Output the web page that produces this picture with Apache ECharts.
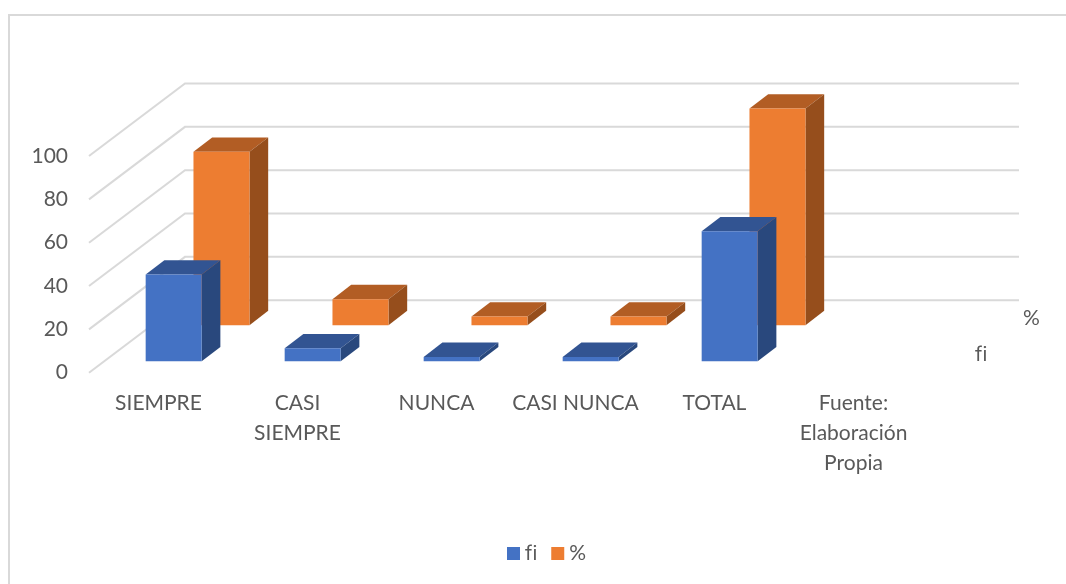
<!DOCTYPE html>
<html>
<head>
<meta charset="utf-8">
<style>
  html, body { margin: 0; background: #fff; }
  #chart { width: 1066px; height: 584px; }
</style>
<script src="https://cdn.jsdelivr.net/npm/echarts@6/dist/echarts.min.js"></script>
</head>
<body>
<div id="chart"></div>
<script>
const categories = ['SIEMPRE', 'CASI\nSIEMPRE', 'NUNCA', 'CASI NUNCA', 'TOTAL', 'Fuente:\nElaboración\nPropia']
const fiValues = [40, 6, 2, 2, 60, null]
const pctValues = [80, 12, 4, 4, 100, null]
const yTicks = [0, 20, 40, 60, 80, 100]

const FONT = 'Lato'
// Lato joins f and i into a ligature, Inter keeps them apart
const FI_FONT = 'Inter'
const TEXT_COLOR = '#595959'
const GRID_COLOR = '#d9d9d9'

// full depth of the floor in px, the fake 3d is just a shear by this
const FLOOR_DX = 96
const FLOOR_DY = 72.5
const BAR_W = 56
const BAR_DX = 18.7
const BAR_DY = 14.3

const FI_COLORS = { front: '#4472c4', top: '#325492', side: '#29487d' }
const PCT_COLORS = { front: '#ed7d31', top: '#b25d24', side: '#964e1c' }

function poly(points, fill) {
  return {
    type: 'polygon',
    shape: { points },
    style: { fill }
  }
}

function renderBar(depth, colors) {
  return (params, api) => {
    const value = api.value(1)
    if (value == null || isNaN(value)) return null
    const idx = api.value(0)
    const base = api.coord([idx, 0])
    const top = api.coord([idx, value])
    const x0 = base[0] + FLOOR_DX * depth - BAR_W / 2
    const x1 = x0 + BAR_W
    const yBottom = base[1] - FLOOR_DY * depth
    const yTop = top[1] - FLOOR_DY * depth
    return {
      type: 'group',
      children: [
        poly([[x0, yTop], [x1, yTop], [x1 + BAR_DX, yTop - BAR_DY], [x0 + BAR_DX, yTop - BAR_DY]], colors.top),
        poly([[x1, yTop], [x1 + BAR_DX, yTop - BAR_DY], [x1 + BAR_DX, yBottom - BAR_DY], [x1, yBottom]], colors.side),
        poly([[x0, yTop], [x1, yTop], [x1, yBottom], [x0, yBottom]], colors.front)
      ]
    }
  }
}

function renderWall(params, api) {
  const band = api.size([1, 0])[0]
  const first = api.coord([0, api.value(1)])
  const last = api.coord([categories.length - 1, api.value(1)])
  const left = first[0] - band / 2
  const right = last[0] + band / 2
  return {
    type: 'polyline',
    shape: {
      points: [
        [left, first[1]],
        [left + FLOOR_DX, first[1] - FLOOR_DY],
        [right + FLOOR_DX, first[1] - FLOOR_DY]
      ]
    },
    style: { fill: 'none', stroke: GRID_COLOR, lineWidth: 2 }
  }
}

const chart = echarts.init(document.getElementById('chart'))

chart.setOption({
  animation: false,
  backgroundColor: '#fff',
  textStyle: { fontFamily: FONT },
  grid: { left: 89, top: 156, width: 834, height: 216.7 },
  legend: {
    data: [
      { name: 'fi', textStyle: { fontFamily: FI_FONT, fontSize: 20, color: TEXT_COLOR } },
      { name: '%', textStyle: { fontFamily: FONT, fontSize: 21, color: TEXT_COLOR } }
    ],
    left: 502,
    top: 538,
    icon: 'rect',
    itemWidth: 13,
    itemHeight: 13,
    itemGap: 14,
    textStyle: { fontFamily: FONT, fontSize: 21, color: TEXT_COLOR }
  },
  xAxis: {
    type: 'category',
    data: categories,
    axisLine: { show: false },
    axisTick: { show: false },
    axisLabel: {
      interval: 0,
      margin: 16,
      fontFamily: FONT,
      fontSize: 21,
      lineHeight: 30,
      color: TEXT_COLOR
    }
  },
  yAxis: {
    type: 'value',
    min: 0,
    max: 100,
    interval: 20,
    splitLine: { show: false },
    axisLine: { show: false },
    axisTick: { show: false },
    axisLabel: {
      margin: 21,
      padding: [5, 0, 0, 0],
      fontFamily: FONT,
      fontSize: 21,
      color: TEXT_COLOR
    }
  },
  series: [
    {
      type: 'custom',
      silent: true,
      clip: false,
      z: 1,
      renderItem: renderWall,
      encode: { x: 0, y: 1 },
      data: yTicks.map(t => [0, t])
    },
    {
      name: '%',
      type: 'custom',
      clip: false,
      z: 2,
      itemStyle: { color: PCT_COLORS.front },
      renderItem: renderBar(0.656, PCT_COLORS),
      encode: { x: 0, y: 1 },
      data: pctValues.map((v, i) => [i, v])
    },
    {
      name: 'fi',
      type: 'custom',
      clip: false,
      z: 3,
      itemStyle: { color: FI_COLORS.front },
      renderItem: renderBar(0.158, FI_COLORS),
      encode: { x: 0, y: 1 },
      data: fiValues.map((v, i) => [i, v])
    }
  ],
  graphic: [
    {
      type: 'polyline',
      silent: true,
      shape: { points: [[9, 584], [9, 15], [1066, 15]] },
      style: { fill: 'none', stroke: GRID_COLOR, lineWidth: 2 }
    },
    {
      type: 'text',
      left: 1023,
      top: 308,
      style: { text: '%', fontFamily: FONT, fontSize: 21, fill: TEXT_COLOR }
    },
    {
      type: 'text',
      left: 975,
      top: 345,
      style: { text: 'fi', fontFamily: FI_FONT, fontSize: 20, fill: TEXT_COLOR }
    }
  ]
})
</script>
</body>
</html>
